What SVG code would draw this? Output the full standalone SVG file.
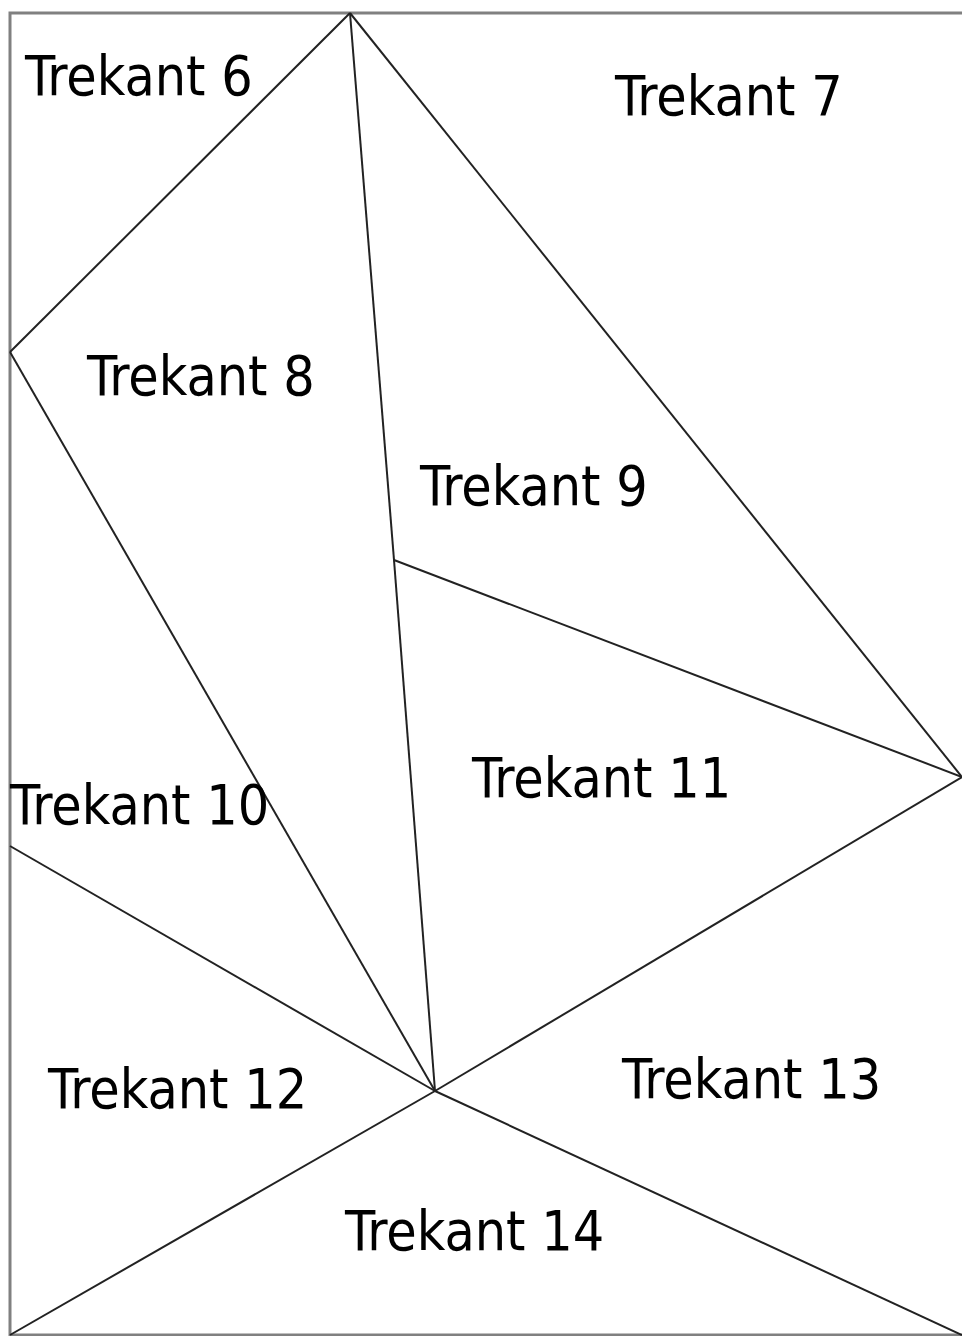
<svg xmlns="http://www.w3.org/2000/svg" width="962" height="1336" viewBox="0 0 962 1336">
<style>
.b{fill:none;stroke:#808080;stroke-width:3}
.l{stroke:#222;stroke-width:2;fill:none}
text{font-family:"DejaVu Sans Condensed","DejaVu Sans","Liberation Sans",sans-serif;font-stretch:condensed;font-size:55px;fill:#000}
</style>
<rect width="962" height="1336" fill="#fff"/>
<g id="frame"><path class="b" d="M964,13 H10 V1335 H964"/></g>
<g id="connectors">
<line class="l" x1="350" y1="13" x2="10" y2="352"/>
<line class="l" x1="350" y1="13" x2="394" y2="560"/>
<line class="l" x1="394" y1="560" x2="435" y2="1091"/>
<line class="l" x1="350" y1="13" x2="962" y2="777"/>
<line class="l" x1="10" y1="352" x2="435" y2="1091"/>
<line class="l" x1="394" y1="560" x2="962" y2="777"/>
<line class="l" x1="962" y1="777" x2="435" y2="1091"/>
<line class="l" x1="10" y1="846" x2="435" y2="1091"/>
<line class="l" x1="435" y1="1091" x2="10" y2="1335"/>
<line class="l" x1="435" y1="1091" x2="962" y2="1335"/>
</g>
<g id="t6"><text x="25" y="95">Trekant 6</text></g>
<g id="t7"><text x="615" y="115">Trekant 7</text></g>
<g id="t8"><text x="87" y="395">Trekant 8</text></g>
<g id="t9"><text x="420" y="505">Trekant 9</text></g>
<g id="t10"><text x="10" y="824">Trekant 10</text></g>
<g id="t11"><text x="472" y="797">Trekant 11</text></g>
<g id="t12"><text x="48" y="1108">Trekant 12</text></g>
<g id="t13"><text x="622" y="1098">Trekant 13</text></g>
<g id="t14"><text x="345" y="1250">Trekant 14</text></g>
</svg>
